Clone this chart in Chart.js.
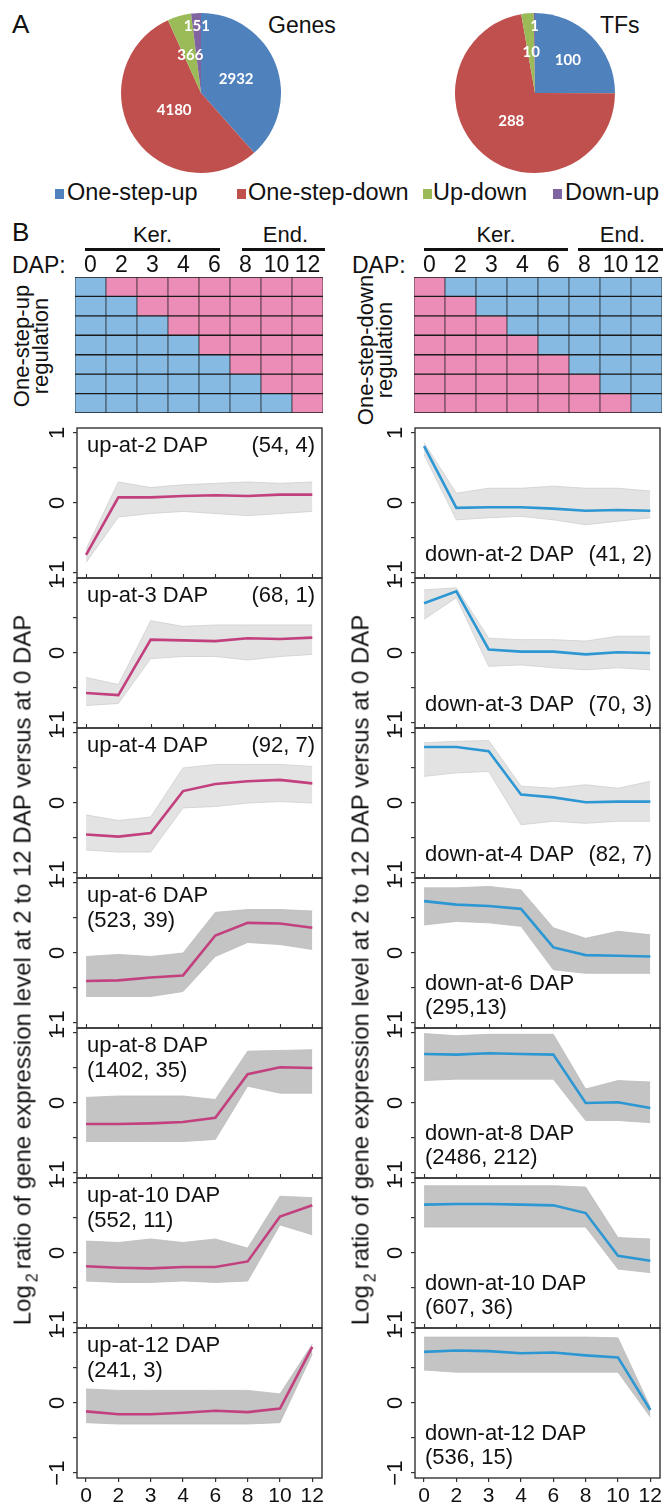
<!DOCTYPE html>
<html><head><meta charset="utf-8">
<script src="https://cdn.jsdelivr.net/npm/chart.js@4.4.0/dist/chart.umd.min.js"></script>
<style>
html,body{margin:0;padding:0;background:#fff;}
#fig{position:relative;width:665px;height:1506px;overflow:hidden;font-family:"Liberation Sans",Arial,Helvetica,sans-serif;color:#111;background:#fff;}
.t{position:absolute;white-space:pre;line-height:1;}
canvas{position:absolute;}
.bar{position:absolute;background:#111;height:3px;}
.sq{position:absolute;width:9px;height:10px;}
</style></head><body><div id="fig"></div>
<script>
// ---------------- DATA ----------------
const xLabels = ['0','2','3','4','6','8','10','12'];
const pieCategories = ['One-step-up','One-step-down','Up-down','Down-up'];
const geneCounts = [2932, 4180, 366, 151];
const tfCounts = [100, 288, 10, 1];

// heat-map rows: 0 = low (blue), 1 = high (pink)
const upStepRows = [
  [0,1,1,1,1,1,1,1],
  [0,0,1,1,1,1,1,1],
  [0,0,0,1,1,1,1,1],
  [0,0,0,0,1,1,1,1],
  [0,0,0,0,0,1,1,1],
  [0,0,0,0,0,0,1,1],
  [0,0,0,0,0,0,0,1]];
const downStepRows = [
  [1,0,0,0,0,0,0,0],
  [1,1,0,0,0,0,0,0],
  [1,1,1,0,0,0,0,0],
  [1,1,1,1,0,0,0,0],
  [1,1,1,1,1,0,0,0],
  [1,1,1,1,1,1,0,0],
  [1,1,1,1,1,1,1,0]];

const upNames = ['up-at-2 DAP','up-at-3 DAP','up-at-4 DAP','up-at-6 DAP','up-at-8 DAP','up-at-10 DAP','up-at-12 DAP'];
const upCounts = ['(54, 4)','(68, 1)','(92, 7)','(523, 39)','(1402, 35)','(552, 11)','(241, 3)'];
const downNames = ['down-at-2 DAP','down-at-3 DAP','down-at-4 DAP','down-at-6 DAP','down-at-8 DAP','down-at-10 DAP','down-at-12 DAP'];
const downCounts = ['(41, 2)','(70, 3)','(82, 7)','(295,13)','(2486, 212)','(607, 36)','(536, 15)'];

// cluster mean profiles (log2 ratio)
const upMean = [
  [-0.74, 0.08, 0.08, 0.10, 0.11, 0.10, 0.12, 0.12],
  [-0.57,-0.60, 0.19, 0.18, 0.17, 0.21, 0.20, 0.22],
  [-0.45,-0.48,-0.43, 0.17, 0.27, 0.31, 0.33, 0.28],
  [-0.40,-0.39,-0.35,-0.32, 0.25, 0.43, 0.42, 0.36],
  [-0.30,-0.30,-0.29,-0.27,-0.21, 0.41, 0.51, 0.50],
  [-0.19,-0.21,-0.22,-0.20,-0.20,-0.12, 0.52, 0.68],
  [-0.12,-0.16,-0.16,-0.14,-0.11,-0.13,-0.08, 0.80]];
// upper / lower envelope of the individual gene profiles
const upHigh = [
  [-0.66, 0.30, 0.22, 0.26, 0.28, 0.30, 0.28, 0.30],
  [-0.35,-0.45, 0.46, 0.38, 0.40, 0.40, 0.40, 0.40],
  [-0.17,-0.25,-0.20, 0.50, 0.55, 0.55, 0.55, 0.52],
  [-0.05,-0.02,-0.05, 0.00, 0.58, 0.62, 0.62, 0.60],
  [ 0.08, 0.10, 0.10, 0.10, 0.05, 0.74, 0.75, 0.76],
  [ 0.17, 0.15, 0.20, 0.15, 0.20, 0.07, 0.81, 0.79],
  [ 0.20, 0.18, 0.18, 0.18, 0.18, 0.18, 0.13, 0.84]];
const upLow = [
  [-0.85,-0.20,-0.15,-0.12,-0.15,-0.18,-0.15,-0.12],
  [-0.75,-0.72,-0.08,-0.05,-0.05,-0.10,-0.05,-0.02],
  [-0.67,-0.70,-0.70,-0.07,-0.05, 0.00, 0.02, 0.00],
  [-0.62,-0.62,-0.62,-0.55,-0.05, 0.15, 0.12, 0.05],
  [-0.55,-0.55,-0.55,-0.55,-0.52, 0.24, 0.14, 0.14],
  [-0.40,-0.42,-0.42,-0.40,-0.42,-0.40, 0.40, 0.26],
  [-0.28,-0.30,-0.30,-0.30,-0.30,-0.30,-0.28, 0.70]];

const downMean = [
  [0.81,-0.07,-0.06,-0.06,-0.08,-0.11,-0.10,-0.11],
  [0.71, 0.88, 0.05, 0.02, 0.02,-0.02, 0.01, 0.00],
  [0.80, 0.80, 0.74, 0.12, 0.08, 0.01, 0.02, 0.02],
  [0.74, 0.69, 0.67, 0.63, 0.08,-0.03,-0.04,-0.05],
  [0.70, 0.69, 0.71, 0.70, 0.69, 0.00, 0.01,-0.07],
  [0.69, 0.70, 0.70, 0.69, 0.68, 0.57,-0.04,-0.11],
  [0.73, 0.75, 0.74, 0.71, 0.72, 0.68, 0.65,-0.10]];
const downHigh = [
  [0.86, 0.14, 0.21, 0.21, 0.24, 0.21, 0.21, 0.17],
  [0.90, 0.93, 0.21, 0.19, 0.19, 0.17, 0.24, 0.24],
  [0.86, 0.88, 0.89, 0.24, 0.21, 0.26, 0.21, 0.31],
  [0.93, 0.93, 0.95, 0.90, 0.36, 0.21, 0.31, 0.26],
  [0.99, 0.96, 0.98, 0.98, 0.98, 0.20, 0.32, 0.30],
  [0.96, 0.96, 0.96, 0.96, 0.96, 0.94, 0.22, 0.20],
  [0.94, 0.94, 0.94, 0.94, 0.94, 0.94, 0.93,-0.06]];
const downLow = [
  [0.69,-0.24,-0.21,-0.19,-0.24,-0.31,-0.26,-0.21],
  [0.48, 0.79,-0.19,-0.17,-0.21,-0.24,-0.21,-0.24],
  [0.38, 0.43, 0.45,-0.31,-0.26,-0.29,-0.26,-0.26],
  [0.40, 0.45, 0.43, 0.38,-0.24,-0.29,-0.29,-0.29],
  [0.32, 0.34, 0.34, 0.34, 0.34,-0.25,-0.25,-0.28],
  [0.37, 0.37, 0.37, 0.37, 0.37, 0.37,-0.23,-0.28],
  [0.47, 0.44, 0.44, 0.44, 0.44, 0.44, 0.44,-0.20]];

const yTickValues = [-1, -0.5, 0, 0.5, 1];
const yLabelValues = [1, 0, -1];
const yLabelTexts = ['1', '0', '\u22121'];

// ---------------- STYLE / LAYOUT ----------------
const FONT = '"Liberation Sans", Arial, Helvetica, sans-serif';
const PIE_COLORS = ['#4F81BD', '#C0504D', '#9BBB59', '#8064A2'];
const CELL_BLUE = '#86BAE3', CELL_PINK = '#EC8DB8';
const UP_LINE = '#C2407E', DOWN_LINE = '#2C97D2';
const fig = document.getElementById('fig');

function txt(s, x, baseline, size, align, extra) {
  const d = document.createElement('div');
  d.className = 't';
  d.textContent = s;
  d.style.fontSize = size + 'px';
  d.style.left = x + 'px';
  d.style.top = (baseline - 0.8465 * size) + 'px';
  if (align === 'center') d.style.transform = 'translateX(-50%)';
  if (align === 'right') d.style.transform = 'translateX(-100%)';
  if (extra) Object.assign(d.style, extra);
  fig.appendChild(d);
  return d;
}
function rotText(html, cx, cy, size, lh) {
  const d = document.createElement('div');
  d.className = 't';
  d.innerHTML = html;
  d.style.fontSize = size + 'px';
  d.style.lineHeight = (lh || size) + 'px';
  d.style.textAlign = 'center';
  d.style.left = cx + 'px';
  d.style.top = cy + 'px';
  d.style.transform = 'translate(-50%,-50%) rotate(-90deg)';
  fig.appendChild(d);
}
function box(cls, x, y, w, h, color) {
  const d = document.createElement('div');
  d.className = cls;
  d.style.left = x + 'px'; d.style.top = y + 'px';
  if (w != null) d.style.width = w + 'px';
  if (h != null) d.style.height = h + 'px';
  if (color) d.style.background = color;
  fig.appendChild(d);
}
function mkCanvas(x, y, w, h) {
  const c = document.createElement('canvas');
  c.width = w; c.height = h;
  c.style.left = x + 'px'; c.style.top = y + 'px';
  c.style.width = w + 'px'; c.style.height = h + 'px';
  fig.appendChild(c);
  return c;
}

// ---------------- PANEL A: pies ----------------
txt('A', 12, 33, 26);
txt('Genes', 268, 33, 23);
txt('TFs', 600, 33, 23);

const pieLabelPlugin = {
  id: 'pieLabels',
  afterDatasetsDraw(chart, args, opts) {
    const ctx = chart.ctx;
    const meta = chart.getDatasetMeta(0);
    const vals = chart.data.datasets[0].data;
    ctx.save();
    ctx.fillStyle = '#fff';
    ctx.font = 'bold 15px Lato, "Open Sans", sans-serif';
    ctx.textAlign = 'center';
    ctx.textBaseline = 'middle';
    meta.data.forEach((el, i) => {
      const p = el.getProps(['x', 'y', 'startAngle', 'endAngle', 'outerRadius'], true);
      const mid = (p.startAngle + p.endAngle) / 2;
      const r = p.outerRadius * opts.frac[i];
      ctx.fillText(String(vals[i]), p.x + Math.cos(mid) * r, p.y + Math.sin(mid) * r);
    });
    ctx.restore();
  }
};
function makePie(x, values, frac) {
  const c = mkCanvas(x, 13, 160, 160);
  new Chart(c, {
    type: 'pie',
    data: { labels: pieCategories, datasets: [{ data: values, backgroundColor: PIE_COLORS, borderWidth: 0 }] },
    options: {
      responsive: false, animation: false,
      layout: { padding: 0 },
      plugins: { legend: { display: false }, tooltip: { enabled: false }, pieLabels: { frac } }
    },
    plugins: [pieLabelPlugin]
  });
}
makePie(121, geneCounts, [0.47, 0.40, 0.49, 0.84]);
makePie(455, tfCounts, [0.58, 0.46, 0.51, 0.83]);

// legend
const legendSq = [55, 237, 423, 553];
const legendTx = [67, 248, 433, 565];
pieCategories.forEach((name, i) => {
  box('sq', legendSq[i], 189, 9, 10, PIE_COLORS[i]);
  txt(name, legendTx[i], 201, 23.5);
});

// ---------------- PANEL B header ----------------
txt('B', 12, 241, 26);
function header(dapLeft, kerBar, endBar) {
  txt('DAP:', dapLeft, 273, 23);
  txt('Ker.', (kerBar[0] + kerBar[1]) / 2, 243, 22, 'center');
  txt('End.', (endBar[0] + endBar[1]) / 2 + 2, 243, 22, 'center');
  box('bar', kerBar[0], 248, kerBar[1] - kerBar[0], 3);
  box('bar', endBar[0], 248, endBar[1] - endBar[0], 3);
}
header(12, [85, 220], [242, 325]);
header(352, [424, 568], [578, 663]);

function makeGrid(left, rows) {
  const c = mkCanvas(left, 245, 248, 168);
  new Chart(c, {
    type: 'bar',
    data: {
      labels: xLabels,
      datasets: rows.map(row => ({
        data: row.map(() => 1),
        backgroundColor: row.map(v => v ? CELL_PINK : CELL_BLUE),
        borderColor: '#1b1b1b',
        borderWidth: { top: 1, bottom: 1, left: 0.7, right: 0.7 },
        borderSkipped: false,
        categoryPercentage: 1, barPercentage: 1, stack: 's'
      }))
    },
    options: {
      responsive: false, animation: false,
      layout: { padding: 0 },
      plugins: { legend: { display: false }, tooltip: { enabled: false } },
      scales: {
        x: {
          stacked: true, position: 'top',
          grid: { display: false, drawTicks: false }, border: { display: false },
          ticks: { font: { size: 23, family: FONT }, color: '#111', padding: -2, maxRotation: 0, autoSkip: false },
          afterFit: s => { s.height = 32; s.paddingLeft = 0; s.paddingRight = 0; }
        },
        y: { stacked: true, display: false, min: 0, max: 7, reverse: true }
      }
    }
  });
}
makeGrid(75, upStepRows);
makeGrid(414, downStepRows);

rotText('One-step-up<br>regulation', 31, 346, 22, 19);
rotText('One-step-down<br>regulation', 375, 350, 22, 19);

// ---------------- line panels ----------------
const PANEL_TOP = 428, PANEL_H = 150;
const COLS = {
  up:   { left: 77,  right: 322, labelX: 87,  countRight: 315, mean: upMean, hi: upHigh, lo: upLow, names: upNames, counts: upCounts, color: UP_LINE },
  down: { left: 415, right: 660, labelX: 425, countRight: 652, mean: downMean, hi: downHigh, lo: downLow, names: downNames, counts: downCounts, color: DOWN_LINE }
};

const panelDeco = {
  id: 'panelDeco',
  afterDatasetsDraw(chart, args, opts) {
    const { ctx, chartArea: a, scales } = chart;
    ctx.save();
    ctx.strokeStyle = '#333';
    ctx.lineWidth = 1.4;
    ctx.strokeRect(a.left, a.top, a.right - a.left, a.bottom - a.top);
    if (!opts.last) {
      ctx.lineWidth = 1.1;
      ctx.beginPath();
      xLabels.forEach((_, i) => {
        const px = Math.round(scales.x.getPixelForValue(i)) + 0.5;
        ctx.moveTo(px, a.bottom); ctx.lineTo(px, a.bottom - 4);
      });
      ctx.stroke();
    }
    ctx.fillStyle = '#111';
    ctx.font = '22px ' + FONT;
    ctx.textAlign = 'center';
    ctx.textBaseline = 'middle';
    yLabelValues.forEach((v, i) => {
      const py = scales.y.getPixelForValue(v);
      ctx.save();
      ctx.translate(a.left - 19, py);
      ctx.rotate(-Math.PI / 2);
      ctx.fillText(yLabelTexts[i], 0, 0);
      ctx.restore();
    });
    ctx.restore();
  }
};

function pts(arr) { return arr.map((v, i) => ({ x: i, y: v })); }

function makePanel(side, k) {
  const c = COLS[side];
  const top = PANEL_TOP + k * PANEL_H;
  const bottom = top + PANEL_H;
  const last = k === 6;
  const xh = last ? 32 : 6;
  const cw = (c.right - c.left) + 37 + 8;
  const cv = mkCanvas(c.left - 37, top - 10, cw, 10 + PANEL_H + xh);
  const n = parseInt(c.counts[k].slice(1), 10);
  const dense = n > 200;
  const band = dense ? '#c4c4c4' : 'rgba(200,200,200,0.5)';
  const edge = dense ? '#bdbdbd' : '#cfcfcf';
  new Chart(cv, {
    type: 'line',
    data: {
      datasets: [
        // dataset 0 is drawn on top
        { data: pts(c.mean[k]), borderColor: c.color, borderWidth: 2.6, pointRadius: 0, fill: false, order: 0 },
        { data: pts(c.lo[k]), borderColor: edge, borderWidth: 0.8, pointRadius: 0, fill: false, order: 1 },
        { data: pts(c.hi[k]), borderColor: edge, borderWidth: 0.8, pointRadius: 0, fill: '-1', backgroundColor: band, order: 2 }
      ]
    },
    options: {
      responsive: false, animation: false,
      layout: { padding: { top: 10, right: 8, left: 0, bottom: 0 } },
      plugins: { legend: { display: false }, tooltip: { enabled: false }, panelDeco: { last } },
      elements: { line: { tension: 0 } },
      scales: {
        x: {
          type: 'linear', min: -0.28, max: 7.3,
          afterBuildTicks: s => { s.ticks = xLabels.map((_, i) => ({ value: i })); },
          afterFit: s => { s.height = xh; s.paddingLeft = 0; s.paddingRight = 0; },
          grid: { display: last, drawOnChartArea: false, tickLength: 4, color: '#333', lineWidth: 1.2 },
          border: { display: false },
          ticks: { display: last, callback: v => xLabels[Math.round(v)], font: { size: 21, family: FONT }, color: '#111', padding: 2, maxRotation: 0, autoSkip: false }
        },
        y: {
          min: -1.07, max: 1.07,
          afterBuildTicks: s => { s.ticks = yTickValues.map(v => ({ value: v })); },
          afterFit: s => { s.width = 37; s.paddingTop = 0; s.paddingBottom = 0; },
          grid: { drawOnChartArea: false, tickLength: 4, color: '#333', lineWidth: 1.2 },
          border: { display: false },
          ticks: { display: false }
        }
      }
    },
    plugins: [panelDeco]
  });

  // annotations
  if (side === 'up') {
    txt(c.names[k], c.labelX, top + 25, 22);
    if (k < 3) txt(c.counts[k], c.countRight, top + 25, 22, 'right');
    else txt(c.counts[k], c.labelX, top + 50, 22);
  } else {
    if (k < 3) {
      txt(c.names[k], c.labelX, bottom - 16, 22);
      txt(c.counts[k], c.countRight, bottom - 16, 22, 'right');
    } else {
      txt(c.names[k], c.labelX, bottom - 37, 22);
      txt(c.counts[k], c.labelX, bottom - 13, 22);
    }
  }
}
for (let k = 0; k < 7; k++) { makePanel('up', k); makePanel('down', k); }

const title = 'Log<span style="font-size:16px;position:relative;top:7px;margin:0 4px 0 3px">2</span>ratio of gene expression level at 2 to 12 DAP versus at 0 DAP';
rotText(title, 24, 970, 24);
rotText(title, 362, 970, 24);
</script></body></html>
